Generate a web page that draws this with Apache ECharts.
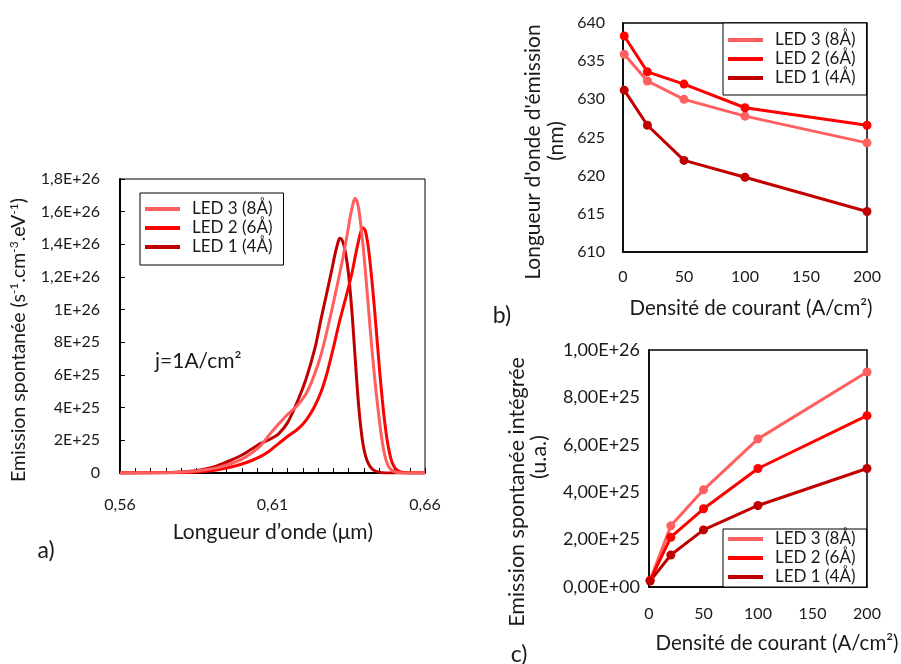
<!DOCTYPE html>
<html><head><meta charset="utf-8">
<script src="https://cdn.jsdelivr.net/npm/echarts@6/dist/echarts.min.js"></script>
<style>html,body{margin:0;padding:0;background:#fff}#c{width:901px;height:664px}</style>
</head><body><div id="c"></div>
<script>
// ---------- DATA ----------
const seriesNames = ['LED 3 (8Å)', 'LED 2 (6Å)', 'LED 1 (4Å)'];
const seriesColors = ['#FF5F5F', '#FF0000', '#C00000'];

// Panel a: spontaneous emission spectra at j = 1 A/cm² ([wavelength µm, emission])
const spectrumLed3 = [[0.560,0],[0.570,0.01e25],[0.578,0.03e25],[0.584,0.1e25],[0.588,0.2e25],[0.592,0.33e25],[0.596,0.55e25],[0.600,0.85e25],[0.603,1.2e25],[0.606,1.65e25],[0.609,2.35e25],[0.612,3.0e25],[0.615,3.6e25],[0.618,4.1e25],[0.621,4.85e25],[0.6235,5.9e25],[0.626,7.3e25],[0.6285,9.2e25],[0.631,11.3e25],[0.633,13.1e25],[0.6345,14.6e25],[0.6355,15.7e25],[0.6363,16.4e25],[0.6370,16.82e25],[0.6377,16.65e25],[0.6384,16.0e25],[0.6392,14.8e25],[0.6400,13.3e25],[0.6408,11.6e25],[0.6416,9.8e25],[0.6424,8.0e25],[0.6432,6.4e25],[0.6440,4.9e25],[0.6448,3.6e25],[0.6456,2.4e25],[0.6464,1.45e25],[0.6472,0.8e25],[0.6482,0.35e25],[0.6495,0.12e25],[0.6510,0.03e25],[0.6530,0],[0.660,0]];
const spectrumLed2 = [[0.560,0],[0.570,0.005e25],[0.578,0.02e25],[0.584,0.05e25],[0.588,0.1e25],[0.592,0.2e25],[0.596,0.35e25],[0.600,0.55e25],[0.603,0.75e25],[0.606,1.0e25],[0.609,1.35e25],[0.612,1.8e25],[0.615,2.25e25],[0.618,2.65e25],[0.620,3.0e25],[0.622,3.5e25],[0.624,4.15e25],[0.626,5.0e25],[0.628,6.2e25],[0.630,7.7e25],[0.632,9.3e25],[0.634,10.7e25],[0.636,12.2e25],[0.6375,13.6e25],[0.6387,14.6e25],[0.6396,15.02e25],[0.6404,14.85e25],[0.6412,14.1e25],[0.6420,12.9e25],[0.6428,11.4e25],[0.6436,9.7e25],[0.6444,7.9e25],[0.6452,6.1e25],[0.6460,4.5e25],[0.6468,3.1e25],[0.6476,2.0e25],[0.6484,1.2e25],[0.6492,0.65e25],[0.6502,0.3e25],[0.6515,0.1e25],[0.6530,0.03e25],[0.6557,0],[0.660,0]];
const spectrumLed1 = [[0.560,0],[0.570,0.01e25],[0.578,0.04e25],[0.584,0.12e25],[0.588,0.25e25],[0.592,0.45e25],[0.596,0.75e25],[0.600,1.1e25],[0.603,1.45e25],[0.606,1.8e25],[0.609,2.05e25],[0.612,2.4e25],[0.615,3.1e25],[0.618,4.3e25],[0.621,5.75e25],[0.624,7.7e25],[0.626,9.5e25],[0.628,11.2e25],[0.6295,12.5e25],[0.6305,13.4e25],[0.6313,14.0e25],[0.6320,14.37e25],[0.6327,14.3e25],[0.6334,13.95e25],[0.6341,13.3e25],[0.6348,12.4e25],[0.6355,11.1e25],[0.6362,9.5e25],[0.6369,7.6e25],[0.6376,5.7e25],[0.6383,4.0e25],[0.6390,2.7e25],[0.6397,1.75e25],[0.6405,1.05e25],[0.6415,0.55e25],[0.6428,0.22e25],[0.6445,0.07e25],[0.6470,0],[0.660,0]];

// Panels b and c: current density (A/cm²)
const currentDensity = [1, 20, 50, 100, 200];
// Panel b: emission peak wavelength (nm)
const peakLed3 = [635.9, 632.4, 630.0, 627.8, 624.3];
const peakLed2 = [638.3, 633.6, 632.0, 628.9, 626.6];
const peakLed1 = [631.2, 626.6, 622.0, 619.8, 615.3];
// Panel c: integrated spontaneous emission (a.u.)
const integLed3 = [2.8e24, 2.58e25, 4.10e25, 6.25e25, 9.07e25];
const integLed2 = [2.8e24, 2.10e25, 3.30e25, 5.00e25, 7.23e25];
const integLed1 = [2.5e24, 1.35e25, 2.41e25, 3.44e25, 5.00e25];

// ---------- CHART ----------
const FONT = 'Lato';
const TXT = '#1a1a1a';
const pair = (xs, ys) => xs.map((x, i) => [x, ys[i]]);

function sciShort(v) {
  if (v === 0) return '0';
  const e = Math.floor(Math.log10(v) + 1e-9);
  const m = Math.round(v / Math.pow(10, e) * 10) / 10;
  return String(m).replace('.', ',') + 'E+' + e;
}
function sciLong(v) {
  if (v === 0) return '0,00E+00';
  const e = Math.floor(Math.log10(v) + 1e-9);
  const m = v / Math.pow(10, e);
  return m.toFixed(2).replace('.', ',') + 'E+' + e;
}

const axisLabel = (extra) => Object.assign({ color: TXT, fontFamily: FONT, fontSize: 16 }, extra);
const blackLine = (w) => ({ show: true, lineStyle: { color: '#000', width: w } });

function legend(left, top, padding) {
  return {
    orient: 'vertical', left: left, top: top,
    data: seriesNames.map(n => ({ name: n, icon: 'rect' })),
    itemWidth: 35, itemHeight: 4, itemGap: 1,
    borderColor: '#000', borderWidth: 1, padding: padding,
    backgroundColor: '#fff',
    formatter: n => '{t|' + n + '}',
    textStyle: { color: TXT, fontFamily: FONT, fontSize: 17, lineHeight: 18,
      rich: { t: { padding: [0, 0, 0, 7], fontFamily: FONT, fontSize: 17, color: TXT } } },
    selectedMode: false
  };
}

const spectra = [spectrumLed3, spectrumLed2, spectrumLed1];
const peaks = [peakLed3, peakLed2, peakLed1];
const integ = [integLed3, integLed2, integLed1];

const series = [];
spectra.forEach((d, i) => series.push({
  name: seriesNames[i], type: 'line', xAxisIndex: 0, yAxisIndex: 0, data: d,
  showSymbol: false, smooth: 0.25, lineStyle: { width: 3, color: seriesColors[i] },
  itemStyle: { color: seriesColors[i] }, z: 5 - i
}));
peaks.forEach((d, i) => series.push({
  name: seriesNames[i], type: 'line', xAxisIndex: 1, yAxisIndex: 1, data: pair(currentDensity, d),
  symbol: 'circle', symbolSize: 9, lineStyle: { width: 3, color: seriesColors[i] },
  itemStyle: { color: seriesColors[i] }
}));
integ.forEach((d, i) => series.push({
  name: seriesNames[i], type: 'line', xAxisIndex: 2, yAxisIndex: 2, data: pair(currentDensity, d),
  symbol: 'circle', symbolSize: 9, lineStyle: { width: 3, color: seriesColors[i] },
  itemStyle: { color: seriesColors[i] }
}));

const gtext = (x, y, text, size, rot, align) => ({
  type: 'text', x: x, y: y, rotation: rot || 0,
  style: { text: text, fill: TXT, font: size + 'px ' + FONT, align: align || 'center', verticalAlign: 'middle' }
});

const option = {
  animation: false,
  backgroundColor: '#fff',
  grid: [
    { left: 120, top: 179, width: 305, height: 294, show: true, borderColor: '#000', borderWidth: 1 },
    { left: 623, top: 23, width: 244, height: 229, show: true, borderColor: '#000', borderWidth: 1.5 },
    { left: 649, top: 350, width: 218, height: 237, show: true, borderColor: '#000', borderWidth: 1.5 }
  ],
  xAxis: [
    { type: 'value', gridIndex: 0, min: 0.56, max: 0.66, interval: 0.05,
      axisLine: blackLine(2), axisTick: { show: true, inside: true, length: 5, lineStyle: { color: '#000' } },
      minorTick: { show: true, splitNumber: 10, length: 5, lineStyle: { color: '#000' } },
      splitLine: { show: false },
      axisLabel: axisLabel({ margin: 24, formatter: v => v.toFixed(2).replace('.', ',') }) },
    { type: 'value', gridIndex: 1, min: 0, max: 200, interval: 50,
      axisLine: blackLine(1.5), axisTick: { show: false }, splitLine: { show: false },
      axisLabel: axisLabel({ margin: 17 }) },
    { type: 'value', gridIndex: 2, min: 0, max: 200, interval: 50,
      axisLine: blackLine(1.5), axisTick: { show: false }, splitLine: { show: false },
      axisLabel: axisLabel({ margin: 19 }) }
  ],
  yAxis: [
    { type: 'value', gridIndex: 0, min: 0, max: 1.8e26, interval: 2e25,
      axisLine: blackLine(2), axisTick: { show: true, inside: true, length: 5, lineStyle: { color: '#000' } },
      splitLine: { show: false },
      axisLabel: axisLabel({ margin: 20, formatter: sciShort }) },
    { type: 'value', gridIndex: 1, min: 610, max: 640, interval: 5,
      axisLine: blackLine(1.5), axisTick: { show: false }, splitLine: { show: false },
      axisLabel: axisLabel({ margin: 18 }) },
    { type: 'value', gridIndex: 2, min: 0, max: 1e26, interval: 2e25,
      axisLine: blackLine(1.5), axisTick: { show: false }, splitLine: { show: false },
      axisLabel: axisLabel({ margin: 9, fontSize: 18, formatter: sciLong }) }
  ],
  legend: [
    legend(140, 193, [7, 11, 9, 5]),
    legend(723, 23, [8, 11, 8, 5]),
    legend(723, 529, [1, 11, 1, 5])
  ],
  series: series,
  graphic: [
    { type: 'text', x: 19, y: 340, rotation: Math.PI / 2,
      style: { text: 'Emission spontanée (s{s|-1}.cm{s|-3}.eV{s|-1})', fill: TXT, font: '19.5px ' + FONT,
        align: 'center', verticalAlign: 'middle',
        rich: { s: { fontSize: 12, fontFamily: FONT, verticalAlign: 'top', fill: TXT, lineHeight: 22 } } } },
    gtext(273, 532, 'Longueur d’onde (μm)', 21),
    gtext(46, 551, 'a)', 23),
    gtext(155, 361, 'j=1A/cm²', 21, 0, 'left'),
    gtext(751, 308, 'Densité de courant (A/cm²)', 20.5),
    gtext(533, 152, "Longueur d'onde d'émission", 21, Math.PI / 2),
    gtext(556, 141, '(nm)', 21, Math.PI / 2),
    gtext(502, 316, 'b)', 23),
    gtext(777, 643, 'Densité de courant (A/cm²)', 20.5),
    gtext(517, 492, 'Emission spontanée intégrée', 21.5, Math.PI / 2),
    gtext(539, 457, '(u.a.)', 21.5, Math.PI / 2),
    gtext(519, 655, 'c)', 23)
  ]
};

const chart = echarts.init(document.getElementById('c'), null, { renderer: 'canvas' });
chart.setOption(option);
</script></body></html>
